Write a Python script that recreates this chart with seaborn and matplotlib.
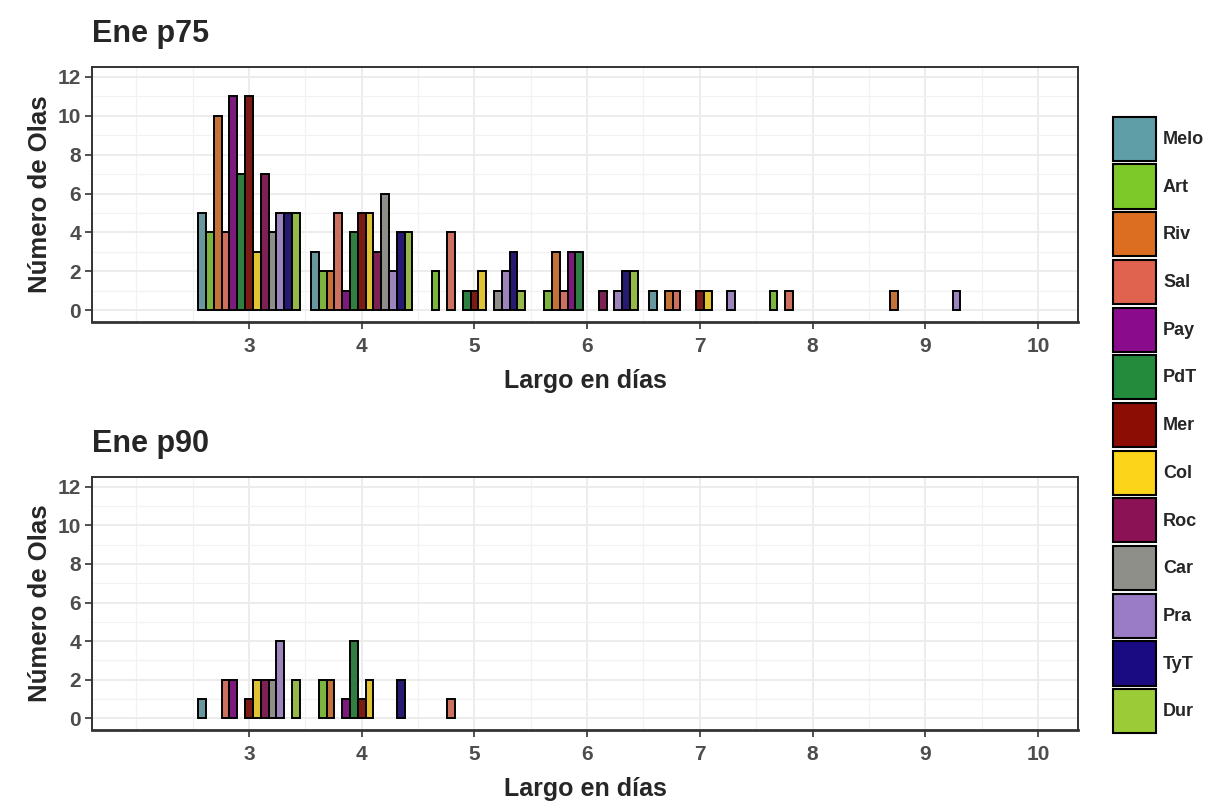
import numpy as np
import pandas as pd
import matplotlib
matplotlib.use("Agg")
import matplotlib.pyplot as plt
import seaborn as sns
from matplotlib.patches import Patch
from matplotlib.ticker import MultipleLocator, FixedLocator

# ---------------- data ----------------
stations = ["Melo", "Art", "Riv", "Sal", "Pay", "PdT", "Mer", "Col",
            "Roc", "Car", "Pra", "TyT", "Dur"]
colors = ["#5F9EA6", "#7DC92A", "#DC6E22", "#DF634E", "#8A0C8C", "#238B3B",
          "#8B0D04", "#FCD419", "#8C1256", "#8F8F8A", "#9A7BC6", "#1B0B82",
          "#9BCB36"]

# counts per wave length (rows) and station (columns, order = stations)
p75_lengths = [3, 4, 5, 6, 7, 8, 9]
p75_counts = [
    [5, 4, 10, 4, 11, 7, 11, 3, 7, 4, 5, 5, 5],
    [3, 2, 2, 5, 1, 4, 5, 5, 3, 6, 2, 4, 4],
    [0, 2, 0, 4, 0, 1, 1, 2, 0, 1, 2, 3, 1],
    [0, 1, 3, 1, 3, 3, 0, 0, 1, 0, 1, 2, 2],
    [1, 0, 1, 1, 0, 0, 1, 1, 0, 0, 1, 0, 0],
    [0, 1, 0, 1, 0, 0, 0, 0, 0, 0, 0, 0, 0],
    [0, 0, 1, 0, 0, 0, 0, 0, 0, 0, 1, 0, 0],
]
p90_lengths = [3, 4, 5]
p90_counts = [
    [1, 0, 0, 2, 2, 0, 1, 2, 2, 2, 4, 0, 2],
    [0, 2, 2, 0, 1, 4, 1, 2, 0, 0, 0, 2, 0],
    [0, 0, 0, 1, 0, 0, 0, 0, 0, 0, 0, 0, 0],
]
panel_titles = ["Ene p75", "Ene p90"]
x_label = "Largo en días"
y_label = "Número de Olas"


def long_frame(lengths, counts):
    rows = []
    for L, row in zip(lengths, counts):
        for st, n in zip(stations, row):
            if n > 0:
                rows.append({"largo": L, "est": st, "n": n})
    return pd.DataFrame(rows)


sns.set_theme(style="white")
plt.rcParams["font.family"] = ["Liberation Sans", "DejaVu Sans"]

fig = plt.figure(figsize=(12.16, 8.05), dpi=100)
W, H = 1216, 805
ax_top = fig.add_axes([92 / W, 1 - 322 / H, (1078 - 92) / W, (322 - 67) / H])
ax_bot = fig.add_axes([92 / W, 1 - 730 / H, (1078 - 92) / W, (730 - 477) / H])

palette = dict(zip(stations, colors))

for ax, (lengths, counts), title in zip(
        [ax_top, ax_bot],
        [(p75_lengths, p75_counts), (p90_lengths, p90_counts)],
        panel_titles):
    df = long_frame(lengths, counts)
    sns.barplot(data=df, x="largo", y="n", hue="est", hue_order=stations,
                palette=palette, native_scale=True, width=0.9, gap=0,
                errorbar=None, edgecolor="black", linewidth=1.4,
                ax=ax, legend=False, zorder=3)
    ax.set_xlim(1.607, 10.355)
    ax.set_ylim(-0.6, 12.5)
    ax.xaxis.set_major_locator(FixedLocator(list(range(3, 11))))
    ax.xaxis.set_minor_locator(FixedLocator(list(np.arange(1.5, 10.6, 0.5))))
    ax.yaxis.set_major_locator(MultipleLocator(2))
    ax.yaxis.set_minor_locator(MultipleLocator(1))
    ax.grid(True, which="major", color="#EBEBEB", linewidth=1.3, zorder=0)
    ax.grid(True, which="minor", color="#F2F2F2", linewidth=0.9, zorder=0)
    ax.set_axisbelow(True)
    for sp in ax.spines.values():
        sp.set_color("#333333")
        sp.set_linewidth(1.4)
    ax.spines["bottom"].set_linewidth(2.0)
    ax.tick_params(which="major", length=5, width=1.2, color="#333333",
                   labelcolor="#4D4D4D", labelsize=15, pad=3,
                   bottom=True, left=True)
    ax.tick_params(axis="x", which="major", pad=6)
    ax.tick_params(which="minor", length=0)
    for lab in ax.get_xticklabels() + ax.get_yticklabels():
        lab.set_fontweight("bold")
    ax.set_xlabel(x_label, fontsize=18, fontweight="bold", labelpad=9)
    ax.set_ylabel(y_label, fontsize=18.5, fontweight="bold", labelpad=4)
    ax.set_title(title, loc="left", fontsize=22, fontweight="bold", pad=18)

handles = [Patch(facecolor=c, edgecolor="black", linewidth=1.5) for c in colors]
fig.legend(handles, stations, loc="center left",
           bbox_to_anchor=(1100 / W, 1 - 425 / H), frameon=False,
           prop={"weight": "bold", "size": 13}, handlelength=2.4,
           handleheight=3.38, labelspacing=0.2, handletextpad=0.39,
           borderpad=0.2)

fig.savefig("out.png", dpi=100)
